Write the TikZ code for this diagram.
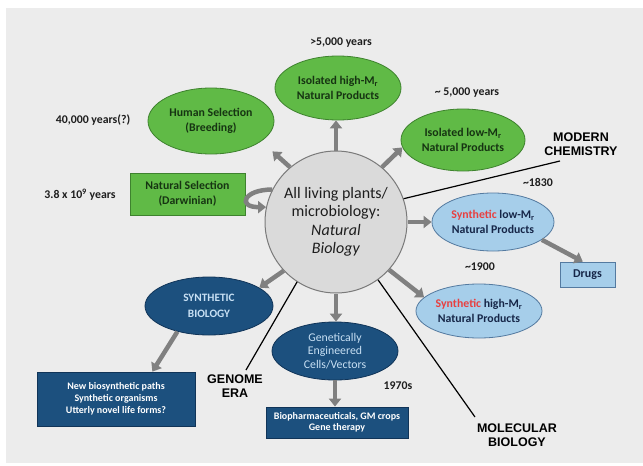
\documentclass[tikz,border=0pt]{standalone}
\usepackage{fontspec}
\setmainfont{Carlito}
\newfontfamily\capsfont{Liberation Sans}
\usetikzlibrary{shapes.geometric,arrows.meta,calc}
\definecolor{panel}{RGB}{236,236,236}
\definecolor{greenfill}{RGB}{96,186,70}
\definecolor{greenline}{RGB}{62,130,46}
\definecolor{greentext}{RGB}{22,52,18}
\definecolor{lbfill}{RGB}{166,206,234}
\definecolor{lbline}{RGB}{84,122,160}
\definecolor{navytext}{RGB}{22,38,72}
\definecolor{synred}{RGB}{232,64,64}
\definecolor{dbfill}{RGB}{28,80,126}
\definecolor{dbline}{RGB}{16,52,88}
\definecolor{dbtext}{RGB}{200,224,244}
\definecolor{arrowgray}{RGB}{128,128,128}
\definecolor{circfill}{RGB}{218,218,218}
\definecolor{circline}{RGB}{122,122,122}
\definecolor{labeltext}{RGB}{30,30,30}
\tikzset{
  greenell/.style={ellipse, draw=greenline, fill=greenfill, line width=0.8pt, inner sep=0pt,
    align=center, text=greentext, font=\bfseries\fontsize{11.8}{15}\selectfont},
  lbell/.style={ellipse, draw=lbline, fill=lbfill, line width=0.8pt, inner sep=0pt,
    align=center, text=navytext, font=\bfseries\fontsize{11.8}{14.5}\selectfont},
  dbell/.style={ellipse, draw=dbline, fill=dbfill, line width=0.8pt, inner sep=0pt,
    align=center, text=dbtext},
  dbbox/.style={rectangle, draw=dbline, fill=dbfill, line width=0.8pt, inner sep=0pt,
    align=center, text=white, font=\bfseries\fontsize{10}{12}\selectfont},
  yearlabel/.style={text=labeltext, font=\bfseries\fontsize{11.8}{13}\selectfont, inner sep=0pt},
  eralabel/.style={text=black, align=center, font=\capsfont\bfseries\fontsize{12.5}{14}\selectfont, inner sep=0pt},
  garrow/.style={draw=arrowgray, line width=4.5pt, -{Triangle[length=8pt,width=12pt]}},
  blackline/.style={draw=black, line width=1.2pt},
}
\begin{document}
\begin{tikzpicture}[x=1pt,y=-1pt]
\useasboundingbox (0,0) rectangle (643,466);
\fill[white] (0,0) rectangle (643,466);
\fill[panel] (6,8) rectangle (643,463);

% centre
\node[circle, draw=circline, fill=circfill, line width=1pt, minimum size=142pt, inner sep=0pt,
  align=center, text=labeltext, font=\fontsize{16}{18.5}\selectfont] (c) at (336,222)
  {All living plants/\\microbiology:\\\textit{Natural}\\\textit{Biology}};

% green nodes
\node[greenell, minimum width=126pt, minimum height=64pt] (hi) at (338,88)
  {Isolated high-M\textsubscript{r}\\Natural Products};
\node[greenell, minimum width=126pt, minimum height=66pt] (hs) at (211,121)
  {Human Selection\\(Breeding)};
\node[greenell, minimum width=124pt, minimum height=62pt] (lo) at (463,140)
  {Isolated low-M\textsubscript{r}\\Natural Products};
\node[rectangle, draw=greenline, fill=greenfill, line width=0.8pt, inner sep=0pt,
  minimum width=115pt, minimum height=42pt, align=center, text=greentext,
  font=\bfseries\fontsize{11.8}{15}\selectfont] (ns) at (187.5,194)
  {Natural Selection\\(Darwinian)};

% light blue nodes
\node[lbell, minimum width=122pt, minimum height=58pt] (sl) at (493,222)
  {\textcolor{synred}{Synthetic} low-M\textsubscript{r}\\Natural Products};
\node[lbell, minimum width=126pt, minimum height=54pt] (sh) at (479,311)
  {\textcolor{synred}{Synthetic} high-M\textsubscript{r}\\Natural Products};
\node[rectangle, draw=lbline, fill=lbfill, line width=0.8pt, inner sep=0pt,
  minimum width=55pt, minimum height=25pt, text=navytext,
  font=\bfseries\fontsize{12}{13}\selectfont] (dr) at (587.5,274.5) {Drugs};

% dark blue nodes
\node[dbell, minimum width=128pt, minimum height=58pt,
  font=\bfseries\fontsize{11.3}{16}\selectfont] (sb) at (209,306) {SYNTHETIC\\BIOLOGY};
\node[dbell, minimum width=126pt, minimum height=58pt,
  font=\fontsize{11.8}{13.5}\selectfont] (ge) at (335,351)
  {Genetically\\Engineered\\Cells/Vectors};
\node[dbbox, minimum width=158pt, minimum height=54pt] (nb) at (116,399)
  {New biosynthetic paths\\Synthetic organisms\\Utterly novel life forms?};
\node[dbbox, minimum width=142pt, minimum height=31pt,
  font=\bfseries\fontsize{10}{11.5}\selectfont] (bp) at (337,422.5)
  {Biopharmaceuticals, GM crops\\Gene therapy};

% labels
\node[yearlabel] (l1) at (341,43) {>5,000 years};
\node[yearlabel] (l2) at (467,93) {\textasciitilde\ 5,000 years};
\node[yearlabel] (l3) at (93,120) {40,000 years(?)};
\node[yearlabel] (l4) at (80,195) {3.8 x 10\textsuperscript{9} years};
\node[yearlabel] (l5) at (538,182) {\textasciitilde 1830};
\node[yearlabel] (l6) at (480,267) {\textasciitilde 1900};
\node[yearlabel] (l7) at (398,386) {1970s};
\node[eralabel] (mc) at (581,144) {MODERN\\CHEMISTRY};
\node[eralabel] (gn) at (235,386) {GENOME\\ERA};
\node[eralabel] (mb) at (517,435) {MOLECULAR\\BIOLOGY};

\coordinate (mcend) at (560,161);
\coordinate (gnend) at (246,370);
\coordinate (mbend) at (475,417);

% black era lines
\draw[blackline] (c.19) -- (mcend);
\draw[blackline] (c.237) -- (gnend);
\draw[blackline] (c.306) -- (mbend);

% gray arrows
\draw[garrow] (c.north) -- (c.north |- hi.south);
\draw[garrow, shorten >=15pt] (c.130) -- (hs.-22);
\draw[garrow] (c.50) -- (lo.187);
\draw[garrow] (c.153) .. controls +(-29,0) and +(-29,0) .. (c.168);
\draw[garrow] (c.east) -- (sl.west);
\draw[garrow] (sl.-20) -- (dr.110);
\draw[garrow] (c.-42) -- (sh.166);
\draw[garrow] (c.223) -- (sb.20);
\draw[garrow] (c.south) -- (c.south |- ge.north);
\draw[garrow] (ge.south) -- (ge.south |- bp.north);
\draw[garrow] (sb.219) -- (nb.37);
\end{tikzpicture}
\end{document}
